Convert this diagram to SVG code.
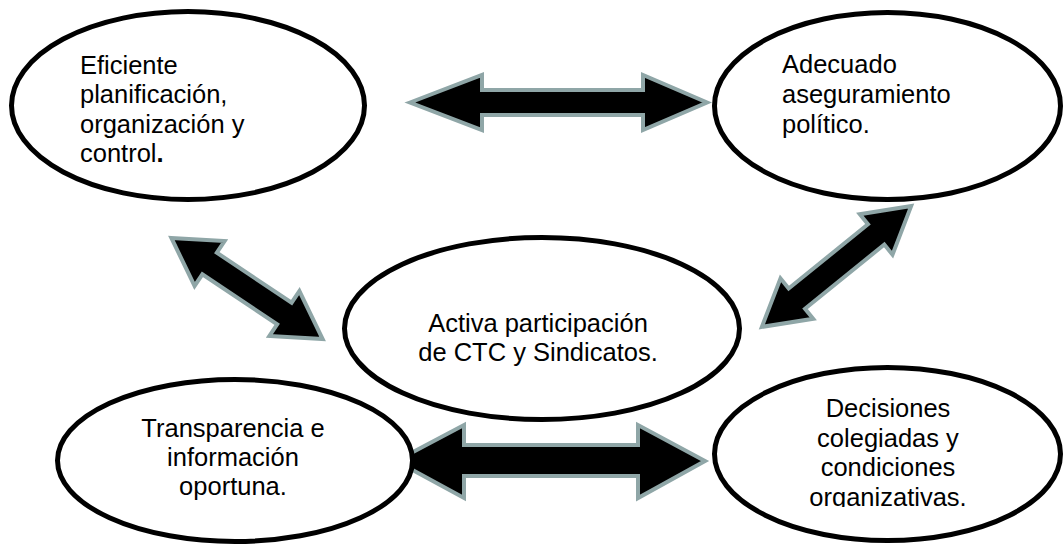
<svg xmlns="http://www.w3.org/2000/svg" width="1064" height="545" viewBox="0 0 1064 545">
<style>
.arrow{fill:#000;stroke:#8fa6a7;stroke-width:4;stroke-linejoin:miter;stroke-miterlimit:10}
.node{fill:#fff;stroke:#000;stroke-width:5}
.t{font-family:"Liberation Sans",Arial,sans-serif;font-size:25.5px;fill:#000}
.c{text-anchor:middle}
</style>
<defs>
<clipPath id="clip5"><rect x="700" y="380" width="364" height="127"/></clipPath>
</defs>
<rect width="1064" height="545" fill="#fff"/>
<g id="connectors">
<polygon class="arrow" points="410,102.5 482,75 482,90 643,90 643,75 707,102.5 643,130 643,115 482,115 482,130"/>
<polygon class="arrow" points="396,461 464,425 464,445 638,445 638,425 705,461 638,498 638,476 464,476 464,498"/>
<polygon class="arrow" transform="translate(247,288.5) rotate(33.77)" points="-91,0 -45,-27 -45,-13 45,-13 45,-27 91,0 45,27 45,13 -45,13 -45,27"/>
<polygon class="arrow" transform="translate(836.5,266.5) rotate(-38.97)" points="-96,0 -51,-26 -51,-13 51,-13 51,-26 96,0 51,26 51,13 -51,13 -51,26"/>
</g>
<g id="node1">
<ellipse class="node" cx="188" cy="105.5" rx="176.5" ry="94"/>
<text class="t" x="80" y="74">Eficiente</text>
<text class="t" x="80" y="103.3">planificación,</text>
<text class="t" x="80" y="132.6">organización y</text>
<text class="t" x="80" y="161.9">control<tspan font-weight="bold">.</tspan></text>
</g>
<g id="node2">
<ellipse class="node" cx="887.5" cy="106" rx="173" ry="93.5"/>
<text class="t" x="782" y="73">Adecuado</text>
<text class="t" x="782" y="103">aseguramiento</text>
<text class="t" x="782" y="133">político.</text>
</g>
<g id="node3">
<ellipse class="node" cx="542" cy="328.5" rx="197.5" ry="91"/>
<text class="t c" x="538" y="332">Activa participación</text>
<text class="t c" x="538" y="361">de CTC y Sindicatos.</text>
</g>
<g id="node4">
<ellipse class="node" cx="235" cy="460.5" rx="177.5" ry="81"/>
<text class="t c" x="233" y="437">Transparencia e</text>
<text class="t c" x="233" y="466">información</text>
<text class="t c" x="233" y="495">oportuna.</text>
</g>
<g id="node5">
<ellipse class="node" cx="887.5" cy="454" rx="173" ry="86.5"/>
<g clip-path="url(#clip5)">
<text class="t c" x="888" y="417">Decisiones</text>
<text class="t c" x="888" y="446.5">colegiadas y</text>
<text class="t c" x="888" y="476">condiciones</text>
<text class="t c" x="888" y="505.5">organizativas.</text>
</g>
</g>
</svg>
